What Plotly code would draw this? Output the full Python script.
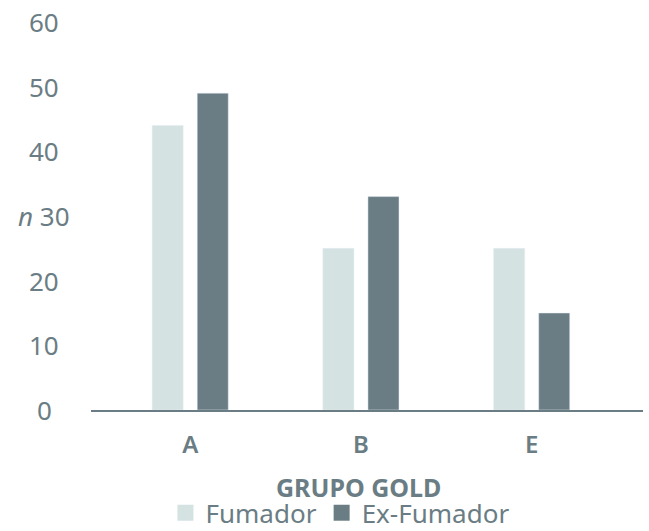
import plotly.graph_objects as go

categories = ["A", "B", "E"]
fumador = [44, 25, 25]
ex_fumador = [49, 33, 15]
y_ticks = [0, 10, 20, 30, 40, 50, 60]
y_tick_labels = ["0", "10", "20", "<i>n</i> 30", "40", "50", "60"]

LIGHT = "#d5e2e2"
DARK = "#6b7d84"
TEXT = "#6b7d84"
FONT = "Noto Sans"

fig = go.Figure()
fig.add_trace(go.Bar(x=categories, y=fumador, name="Fumador", marker_color=LIGHT, showlegend=False))
fig.add_trace(go.Bar(x=categories, y=ex_fumador, name="Ex-Fumador", marker_color=DARK, showlegend=False))
# legend entries with larger square swatches
fig.add_trace(go.Scatter(x=[None], y=[None], mode="markers", name="Fumador",
                         marker=dict(symbol="square", size=16, color=LIGHT)))
fig.add_trace(go.Scatter(x=[None], y=[None], mode="markers", name="Ex-Fumador",
                         marker=dict(symbol="square", size=16, color=DARK)))

for v, t in zip(y_ticks, y_tick_labels):
    fig.add_annotation(x=-0.085, xref="paper", y=v, yref="y", text=t, showarrow=False,
                       xanchor="center", yanchor="middle",
                       font=dict(family=FONT, size=26, color=TEXT))

fig.add_annotation(x=0.485, xref="paper", y=-0.198, yref="paper", text="<b>GRUPO GOLD</b>",
                   showarrow=False, xanchor="center", yanchor="middle",
                   font=dict(family=FONT, size=25, color=TEXT))

fig.update_layout(
    width=649, height=531,
    margin=dict(l=91, r=6, t=22, b=121, autoexpand=False),
    paper_bgcolor="white", plot_bgcolor="white",
    barmode="group", bargap=0.472, bargroupgap=0.311,
    font=dict(family=FONT, color=TEXT),
    legend=dict(orientation="h", x=0.451, xanchor="center", y=-0.265, yanchor="middle",
                font=dict(family=FONT, size=26, color=TEXT), itemwidth=30,
                tracegroupgap=0),
    xaxis=dict(type="category", range=[-0.581, 2.652], showline=True, linecolor=DARK, linewidth=2,
               ticks="", tickfont=dict(family=FONT, size=24, color=TEXT, weight=600),
               ticklabelstandoff=12, automargin=False,
               showgrid=False, zeroline=False),
    yaxis=dict(range=[0, 60], showticklabels=False, showgrid=False, zeroline=False,
               showline=False, ticks="", automargin=False),
)

fig.write_html("out.html")
